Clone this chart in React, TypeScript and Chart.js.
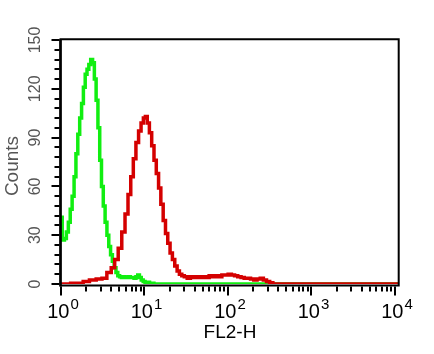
import React, { useEffect, useRef } from 'react';
import { Chart, registerables } from 'chart.js';

Chart.register(...registerables);

// FL2-H channel values (log axis) and counts
const greenFL2 = [1.0, 1.07, 1.13, 1.19, 1.26, 1.32, 1.40, 1.47, 1.55, 1.63, 1.72, 1.81, 1.90, 2.00, 2.10, 2.21, 2.33, 2.45, 2.57, 2.70, 2.84, 2.98, 3.13, 3.29, 3.46, 3.64, 3.83, 4.02, 4.23, 4.44, 4.67, 4.91, 5.16, 5.42, 5.70, 6.0, 6.3, 6.6, 6.9, 7.3, 7.7, 8.1, 8.5, 8.9, 9.4, 9.9, 10.4, 11, 12, 14, 11000];
const greenCounts = [41, 27, 28, 32, 38, 46, 54, 66, 80, 92, 102, 111, 121, 129, 132, 135, 138, 136, 126, 113, 96, 76, 60, 48, 38, 30, 23, 18, 14, 10, 7, 5, 4.5, 4, 4.5, 4, 4, 4.5, 4, 4, 3.5, 4.5, 5.5, 4, 2.5, 1.5, 1, 1, 0.5, 0, 0];

const redFL2 = [1.0, 1.7, 2.0, 2.4, 2.9, 3.3, 3.8, 4.2, 4.6, 5.1, 5.6, 6.1, 6.6, 7.1, 7.6, 8.2, 8.8, 9.4, 10.0, 10.5, 11.1, 11.8, 12.6, 13.4, 14.3, 15.2, 16.2, 17.3, 18.4, 19.6, 20.9, 22.3, 23.8, 25.4, 27, 29, 31, 34, 37, 40, 44, 48, 52, 57, 62, 68, 74, 81, 88, 96, 105, 115, 125, 137, 150, 163, 178, 195, 213, 233, 254, 277, 302, 330, 360, 11000];
const redCounts = [0, 0.5, 1.5, 2.5, 3, 3.5, 7, 10, 15, 22, 32, 43, 55, 66, 77, 87, 94, 99, 102, 103, 99, 93, 85, 76, 68, 59, 49, 39, 31, 25, 19, 15, 11, 8, 6, 5, 4.5, 3.5, 4.5, 4, 4.5, 4, 4.5, 4, 5, 4.5, 5, 4.5, 5.5, 5.5, 6, 5.5, 5, 4.5, 4, 3.5, 3.5, 3, 2.5, 3, 3.5, 2.5, 1.5, 0.8, 0, 0];

const xTickValues = [1, 10, 100, 1000, 10000];
const xTickExponents = ['0', '1', '2', '3', '4'];
const yTickValues = [0, 30, 60, 90, 120, 150];
const xTitle = 'FL2-H';
const yTitle = 'Counts';

const FONT = '"Liberation Sans", Arial, sans-serif';

const axesPlugin = {
  id: 'flowAxes',
  afterDatasetsDraw(chart: any) {
    const { ctx, chartArea: a, scales } = chart;
    const x = scales.x;
    const y = scales.y;
    ctx.save();
    ctx.strokeStyle = '#000';
    // box
    ctx.lineWidth = 2;
    const L = a.left - 0.5, R = a.right - 0.3, T = a.top - 0.7, B = a.bottom + 1.5;
    ctx.beginPath();
    ctx.moveTo(L, T); ctx.lineTo(R, T); ctx.lineTo(R, B); ctx.lineTo(L, B); ctx.closePath();
    ctx.stroke();
    ctx.lineWidth = 2.5;
    ctx.beginPath(); ctx.moveTo(L, T); ctx.lineTo(L, B + 1); ctx.stroke();

    // y ticks
    ctx.lineWidth = 2;
    for (let v = 0; v <= 150; v += 6) {
      const py = Math.round(y.getPixelForValue(v));
      const len = v % 30 === 0 ? 8 : 5;
      ctx.beginPath();
      ctx.moveTo(L - 1, py);
      ctx.lineTo(L - 1 - len, py);
      ctx.stroke();
    }
    // x ticks
    for (let d = 0; d <= 4; d++) {
      for (let m = 1; m <= 9; m++) {
        const v = m * Math.pow(10, d);
        if (v > x.max) break;
        const px = Math.round(x.getPixelForValue(v));
        const len = m === 1 ? 9 : 5;
        ctx.beginPath();
        ctx.moveTo(px, B + 1);
        ctx.lineTo(px, B + 1 + len);
        ctx.stroke();
      }
    }

    // y tick labels (rotated)
    ctx.fillStyle = '#555';
    ctx.font = '16px ' + FONT;
    ctx.textAlign = 'center';
    ctx.textBaseline = 'middle';
    yTickValues.forEach((v) => {
      const py = y.getPixelForValue(v);
      ctx.save();
      ctx.translate(36, py);
      ctx.rotate(-Math.PI / 2);
      ctx.fillText(String(v), 0, 0);
      ctx.restore();
    });
    // y title
    ctx.font = '19px ' + FONT;
    ctx.save();
    ctx.translate(13, 166);
    ctx.rotate(-Math.PI / 2);
    ctx.fillText(yTitle, 0, 0);
    ctx.restore();

    // x tick labels 10^n
    ctx.fillStyle = '#000';
    ctx.textAlign = 'left';
    ctx.textBaseline = 'alphabetic';
    xTickValues.forEach((v, i) => {
      const px = x.getPixelForValue(v);
      ctx.font = '20px ' + FONT;
      const w1 = ctx.measureText('10').width;
      ctx.font = '15px ' + FONT;
      const w2 = ctx.measureText(xTickExponents[i]).width;
      const total = w1 + 1 + w2;
      const start = px + 2 - total / 2;
      ctx.font = '20px ' + FONT;
      ctx.fillText('10', start, 318);
      ctx.font = '15px ' + FONT;
      ctx.fillText(xTickExponents[i], start + w1 + 1, 309);
    });
    // x title
    ctx.font = '19px ' + FONT;
    ctx.textAlign = 'center';
    ctx.fillText(xTitle, (a.left + a.right) / 2, 338);
    ctx.restore();
  },
};

export default function App() {
  const ref = useRef<HTMLCanvasElement>(null);
  useEffect(() => {
    if (!ref.current) return;
    const chart = new Chart(ref.current, {
      type: 'line',
      data: {
        datasets: [
          {
            label: 'Antibody',
            data: redFL2.map((v, i) => ({ x: v, y: redCounts[i] })),
            borderColor: '#d40000',
            borderWidth: 3.5,
            stepped: 'middle',
            pointRadius: 0,
            fill: false,
          },
          {
            label: 'Isotype control',
            data: greenFL2.map((v, i) => ({ x: v, y: greenCounts[i] })),
            borderColor: '#11ee11',
            borderWidth: 3.5,
            stepped: 'middle',
            pointRadius: 0,
            fill: false,
          },
        ],
      },
      options: {
        responsive: false,
        animation: false,
        devicePixelRatio: 1,
        layout: { padding: { left: 61, top: 40, right: 35, bottom: 70 } },
        plugins: { legend: { display: false }, tooltip: { enabled: false } },
        scales: {
          x: { type: 'logarithmic', min: 1, max: 11170, display: false },
          y: { type: 'linear', min: 0, max: 150, display: false },
        },
      },
      plugins: [axesPlugin],
    } as any);
    return () => chart.destroy();
  }, []);
  return (
    <div style={{ position: 'fixed', left: 0, top: 0, width: 434, height: 354, background: '#fff' }}>
      <canvas ref={ref} width={434} height={354} style={{ width: 434, height: 354, display: 'block' }} />
    </div>
  );
}
